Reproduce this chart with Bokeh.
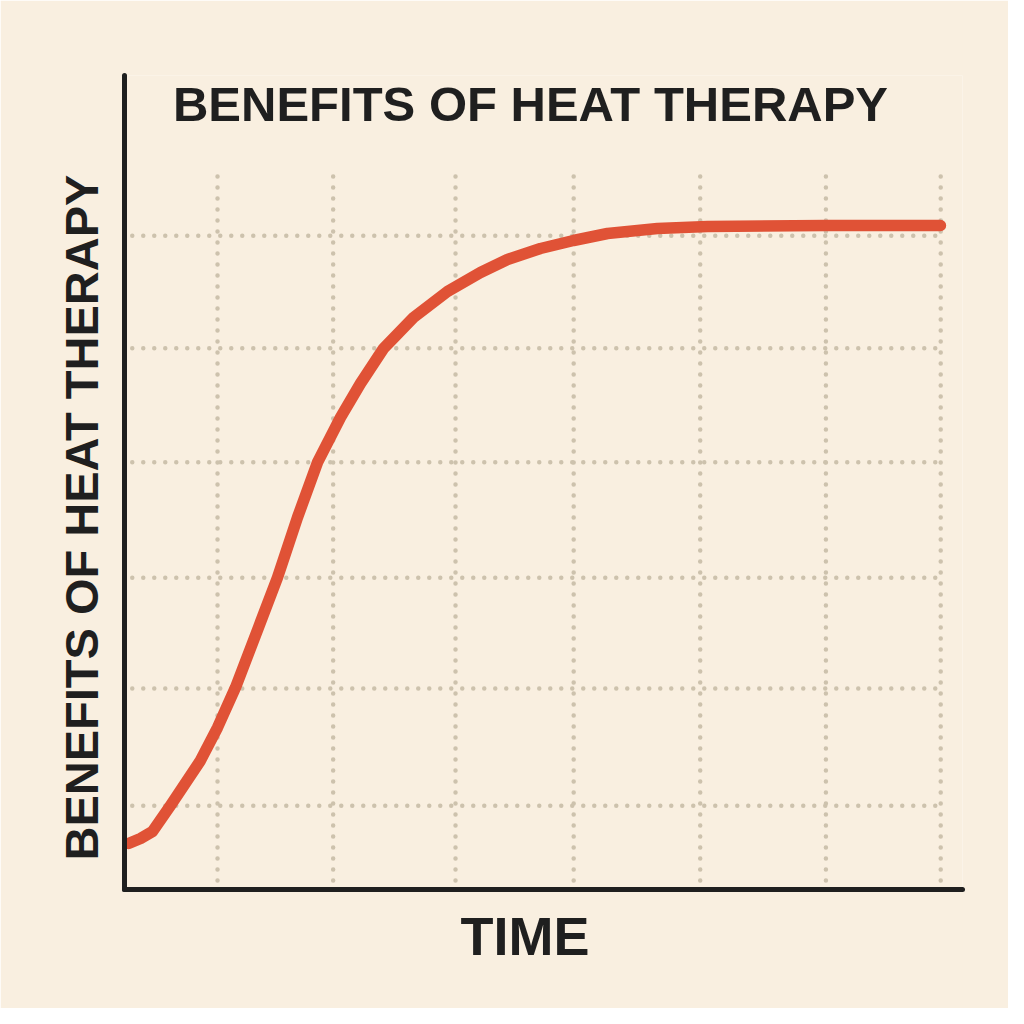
from bokeh.plotting import figure
from bokeh.models import Range1d, Label, Title
from bokeh.embed import file_html
from bokeh.resources import INLINE

# Curve data (time vs benefit, 0-100 scale)
time = [0.48, 1.91, 3.34, 5.49, 9.07, 11.10, 13.25, 15.99, 18.26, 20.64,
        23.03, 25.78, 28.16, 30.91, 34.49, 38.54, 42.48, 45.70, 49.64,
        53.58, 57.64, 63.60, 69.57, 83.65, 97.37]
benefit = [5.65, 6.27, 7.13, 10.32, 15.85, 19.90, 24.82, 32.19, 38.33, 45.70,
           52.46, 57.99, 62.16, 66.46, 70.27, 73.46, 75.80, 77.40, 78.75,
           79.73, 80.59, 81.20, 81.45, 81.57, 81.57]

# Hand-drawn grid positions
grid_x = [11.1, 24.9, 39.5, 53.6, 68.7, 83.7, 97.4]
grid_y = [10.3, 24.7, 38.3, 52.5, 66.5, 80.3]
grid_x_extent = [-1.7, 97.4]
grid_y_extent = [1.1, 88.9]

title_text = "BENEFITS OF HEAT THERAPY"
x_label = "TIME"
y_label = "BENEFITS OF HEAT THERAPY"

BG = "#f9efe0"
INK = "#1f1f1f"
RED = "#e05236"
GRID = "#cdc2ad"
FONT = "Liberation Sans"

p = figure(frame_width=838, frame_height=814,
           min_border_left=124, min_border_right=46,
           min_border_top=75, min_border_bottom=119,
           x_range=Range1d(0, 100), y_range=Range1d(0, 100),
           output_backend="svg", toolbar_location=None)

p.background_fill_color = BG
p.border_fill_color = BG
p.outline_line_color = None
p.xgrid.visible = False
p.ygrid.visible = False

for ax in (p.xaxis[0], p.yaxis[0]):
    ax.axis_line_color = INK
    ax.axis_line_width = 5
    ax.axis_line_cap = "round"
    ax.major_tick_line_color = None
    ax.minor_tick_line_color = None
    ax.major_label_text_font_size = "0px"
    ax.major_label_text_color = None

# dotted grid
p.segment(x0=grid_x, x1=grid_x, y0=[grid_y_extent[0]] * len(grid_x),
          y1=[grid_y_extent[1]] * len(grid_x),
          line_color=GRID, line_width=4.5, line_dash="0 11", line_cap="round")
p.segment(x0=[grid_x_extent[0]] * len(grid_y), x1=[grid_x_extent[1]] * len(grid_y),
          y0=grid_y, y1=grid_y,
          line_color=GRID, line_width=4.5, line_dash="0 11", line_cap="round")

p.line(time, benefit, line_color=RED, line_width=11.5,
       line_cap="round", line_join="round")

p.add_layout(Label(x=48.45, y=96.5, text=title_text, text_align="center",
                   text_baseline="middle", text_font=FONT,
                   text_font_style="bold", text_font_size="49px",
                   text_color=INK))

p.add_layout(Title(text=x_label, align="left", offset=336,
                   text_font=FONT, text_font_style="bold",
                   text_font_size="54px", text_color=INK, standoff=17),
             "below")
p.add_layout(Title(text=y_label, align="left", offset=29,
                   text_font=FONT, text_font_style="bold",
                   text_font_size="47px", text_color=INK, standoff=21),
             "left")

open("out.html", "w").write(file_html(p, INLINE))
